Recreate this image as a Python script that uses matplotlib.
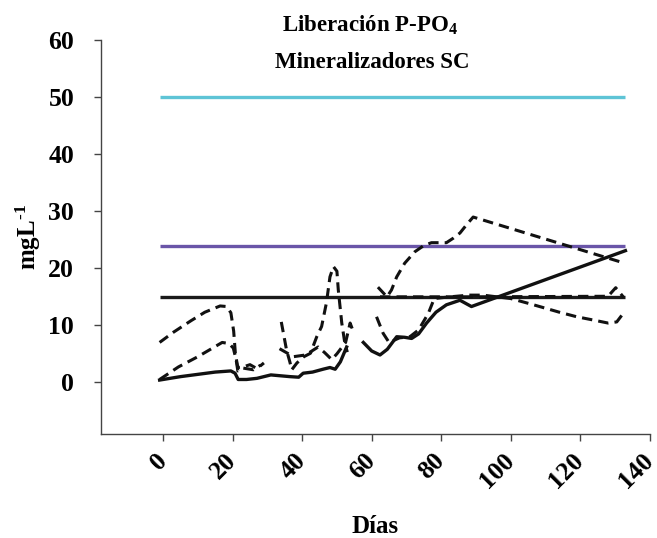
import numpy as np
import matplotlib
matplotlib.use("Agg")
import matplotlib.pyplot as plt

plt.rcParams['font.family'] = ['Liberation Serif', 'DejaVu Serif']
plt.rcParams['font.weight'] = 'bold'
plt.rcParams['mathtext.fontset'] = 'custom'
plt.rcParams['mathtext.rm'] = 'Liberation Serif:bold'
plt.rcParams['mathtext.bf'] = 'Liberation Serif:bold'
plt.rcParams['mathtext.it'] = 'Liberation Serif:bold:italic'

# reference limits (mg/L)
lim_x = [-1, 133]
lim_alto = 50
lim_medio = 24
lim_bajo = 15

# solid series (NaN marks the gap between sampling runs)
sol_x = [-1, 5, 10, 15, 19.5, 20.7, 21.6, 24, 27, 31, 36.5, 39, 40.3, 43, 46, 48, 49.5, 51, 52.8,
         np.nan,
         57.6, 60, 62.4, 64.5, 67.2, 69.5, 71.5, 73.5, 75.8, 78.5, 81.5, 85.4, 88.7, 133]
sol_y = [0.4, 1.0, 1.4, 1.8, 2.0, 1.6, 0.5, 0.5, 0.7, 1.3, 1.0, 0.9, 1.6, 1.8, 2.3, 2.6, 2.3, 3.6, 6.2,
         np.nan,
         7.0, 5.5, 4.8, 5.8, 8.0, 7.9, 7.7, 8.5, 10.4, 12.3, 13.6, 14.4, 13.3, 23.1]

# dashed series
d1_x = [-1, 3, 8, 12, 16.4, 18.3, 19.5, 20.3, 20.8, 21.5, 23, 25, 27, 29]
d1_y = [7.0, 8.8, 10.8, 12.3, 13.4, 13.3, 12.2, 9.0, 5.0, 2.6, 2.7, 3.1, 2.4, 3.4]

d2_x = [-1, 4.4, 10, 17, 19, 20.2, 21, 21.5, 23, 26, 28]
d2_y = [0.5, 2.7, 4.5, 7.0, 6.8, 6.0, 4.0, 2.0, 2.5, 2.2, 3.0]

d3_x = [34.0, 34.8, 35.5, 36.5, 37, 38.5, 40.5, 42.4, 44.2, 45.6, 47, 48, 49, 50, 50.4, 51.4, 52.3, 53]
d3_y = [10.6, 8.0, 5.7, 3.5, 2.2, 3.4, 4.5, 5.1, 8.0, 9.8, 14.0, 18.5, 20.3, 19.5, 16.2, 10.4, 6.8, 5.3]

d4_x = [33.5, 37.5, 41, 44.6, 46.5, 48.5, 50, 52.5, 53.8, 54.6]
d4_y = [5.9, 4.5, 4.8, 6.2, 5.2, 4.0, 5.0, 7.0, 10.4, 9.1]

d5_x = [61.4, 63.3, 65, 68, 71, 73.5, 76.3, 78, 82.5, 88, 92, 100, 106, 110, 114, 119, 124, 128, 130.5, 132.5]
d5_y = [11.5, 8.6, 7.0, 7.8, 8.0, 9.2, 12.1, 14.7, 15.0, 15.3, 15.3, 14.7, 13.7, 13.0, 12.3, 11.5, 10.9, 10.4, 10.6, 12.2]

d6_x = [61.8, 64.4, 65.7, 67.2, 69.5, 72.4, 75, 77.2, 81.5, 83.5, 85.4, 87.5, 89.2, 132.8]
d6_y = [16.7, 15.0, 16.2, 18.5, 20.9, 22.9, 24.0, 24.5, 24.5, 25.3, 26.2, 27.8, 29.0, 20.9]

d7_x = [62.4, 90, 128, 130.2, 132.5]
d7_y = [15.0, 15.0, 15.1, 16.6, 14.9]

fig = plt.figure(figsize=(6.57, 5.38), dpi=100)
ax = fig.add_axes([0.153, 0.194, 0.836, 0.731])

ax.plot(lim_x, [lim_alto] * 2, color='#5ec4d6', lw=2.4, solid_capstyle='butt')
ax.plot(lim_x, [lim_medio] * 2, color='#6a55a8', lw=2.4, solid_capstyle='butt')
ax.plot(lim_x, [lim_bajo] * 2, color='#1a1a1a', lw=2.4, solid_capstyle='butt')

ax.plot(sol_x, sol_y, color='#111111', lw=2.4)
for xs, ys in [(d1_x, d1_y), (d2_x, d2_y), (d3_x, d3_y), (d4_x, d4_y),
               (d5_x, d5_y), (d6_x, d6_y), (d7_x, d7_y)]:
    ax.plot(xs, ys, color='#111111', lw=2.2, linestyle=(0, (3.4, 2.0)))

ax.set_xlim(-18, 140)
ax.set_ylim(-9, 60)
ax.set_xticks(range(0, 141, 20))
ax.set_yticks(range(0, 61, 10))
ax.spines['top'].set_visible(False)
ax.spines['right'].set_visible(False)
for s in ['left', 'bottom']:
    ax.spines[s].set_color('#444444')
    ax.spines[s].set_linewidth(1.0)
ax.tick_params(direction='out', length=5, width=1, color='#444444', labelsize=18.5)
ax.tick_params(axis='x', pad=12)
ax.tick_params(axis='y', pad=14)
for lab in ax.get_xticklabels():
    lab.set_rotation(45)
    lab.set_ha('right')
    lab.set_va('center')
    lab.set_rotation_mode('anchor')
    lab.set_fontweight('bold')
for lab in ax.get_yticklabels():
    lab.set_fontweight('bold')

ax.set_xlabel('Días', fontsize=18, fontweight='bold', labelpad=16)
ax.set_ylabel(r'mgL$^{\text{-1}}$', fontsize=18, fontweight='bold', labelpad=4)

fig.text(0.563, 0.952, r'Liberación P-PO$_{\mathbf{4}}$', ha='center', va='center',
         fontsize=16.5, fontweight='bold')
fig.text(0.566, 0.884, 'Mineralizadores SC', ha='center', va='center',
         fontsize=16.5, fontweight='bold')

fig.savefig('out.png', dpi=100)
